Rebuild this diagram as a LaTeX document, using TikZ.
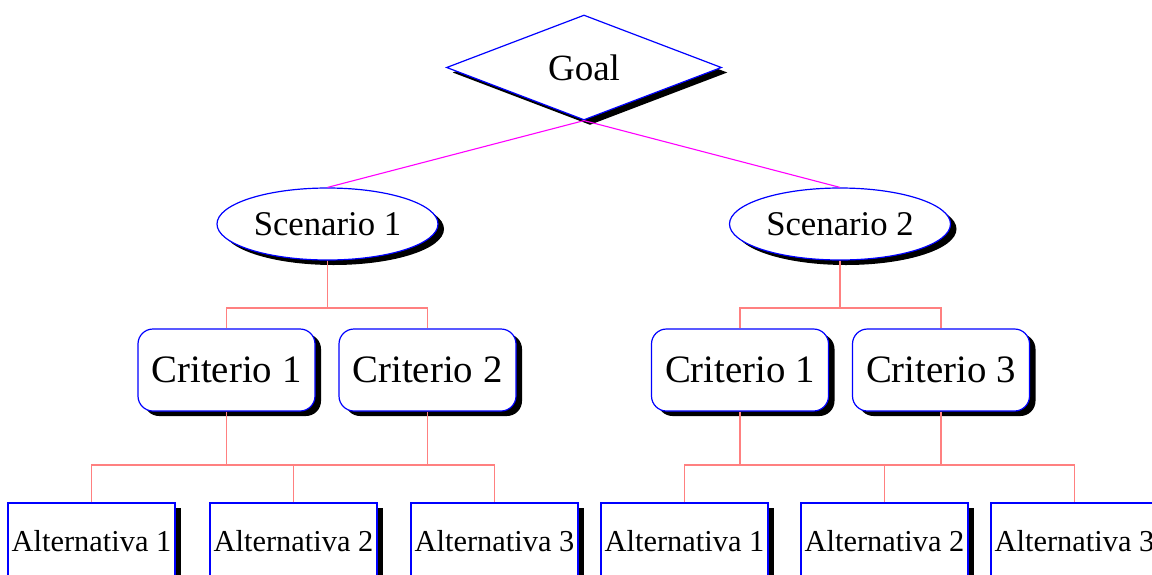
\documentclass[tikz,border=0pt]{standalone}
\usepackage{fontspec}
\setmainfont{Liberation Serif}
\usetikzlibrary{shapes.geometric,shadows}
\definecolor{treepink}{RGB}{255,128,128}
\definecolor{linkmag}{RGB}{255,0,255}
\definecolor{edgeblue}{RGB}{0,0,255}
\begin{document}
\begin{tikzpicture}[x=1pt, y=-1pt,
  boxshadow/.style={drop shadow={shadow xshift=6pt, shadow yshift=-5pt, fill=black, opacity=1}},
  goalbox/.style={diamond, draw=edgeblue, fill=white, line width=1.2pt, inner sep=0pt, minimum width=275pt, minimum height=105pt, font=\fontsize{37}{40}\selectfont, boxshadow},
  scen/.style={ellipse, draw=edgeblue, fill=white, line width=1.2pt, inner sep=0pt, minimum width=221pt, minimum height=72pt, font=\fontsize{34.7}{38}\selectfont, boxshadow},
  crit/.style={draw=edgeblue, fill=white, rounded corners=15pt, line width=1.2pt, inner sep=0pt, minimum width=177pt, minimum height=82pt, font=\fontsize{38.8}{42}\selectfont, boxshadow},
  alt/.style={draw=edgeblue, fill=white, line width=1.2pt, inner sep=0pt, minimum width=167pt, minimum height=76pt, font=\fontsize{30.4}{33}\selectfont, boxshadow},
  link/.style={draw=linkmag, line width=1.1pt},
  tree/.style={draw=treepink, line width=1.2pt}
]
\useasboundingbox (0,0) rectangle (1152,574);
\node[goalbox] (goal) at (584,67.5) {Goal};
\node[scen] (s1) at (327.5,224) {Scenario 1};
\node[scen] (s2) at (840,224) {Scenario 2};
\node[crit] (c11) at (226.5,370) {Criterio 1};
\node[crit] (c12) at (427.5,370) {Criterio 2};
\node[crit] (c21) at (740,370) {Criterio 1};
\node[crit] (c23) at (941,370) {Criterio 3};
\node[alt] (a11) at (91.5,541) {Alternativa 1};
\node[alt] (a12) at (293.5,541) {Alternativa 2};
\node[alt] (a13) at (494.5,541) {Alternativa 3};
\node[alt] (a21) at (684.5,541) {Alternativa 1};
\node[alt] (a22) at (884.5,541) {Alternativa 2};
\node[alt] (a23) at (1074.5,541) {Alternativa 3};
\coordinate (j1) at (327.5,308);
\coordinate (j2) at (840,308);
\coordinate (k1) at (293.5,465);
\coordinate (k2) at (884.5,465);
\draw[link] (goal.south) -- (s1.north);
\draw[link] (goal.south) -- (s2.north);
\draw[tree] (s1.south) -- (j1);
\draw[tree] (c11.north) |- (j1) -| (c12.north);
\draw[tree] (s2.south) -- (j2);
\draw[tree] (c21.north) |- (j2) -| (c23.north);
\draw[tree] (a11.north) |- (k1) -| (a13.north);
\draw[tree] (a12.north) -- (k1);
\draw[tree] (c11.south) -- (c11.south |- k1);
\draw[tree] (c12.south) -- (c12.south |- k1);
\draw[tree] (a21.north) |- (k2) -| (a23.north);
\draw[tree] (a22.north) -- (k2);
\draw[tree] (c21.south) -- (c21.south |- k2);
\draw[tree] (c23.south) -- (c23.south |- k2);
\end{tikzpicture}
\end{document}
